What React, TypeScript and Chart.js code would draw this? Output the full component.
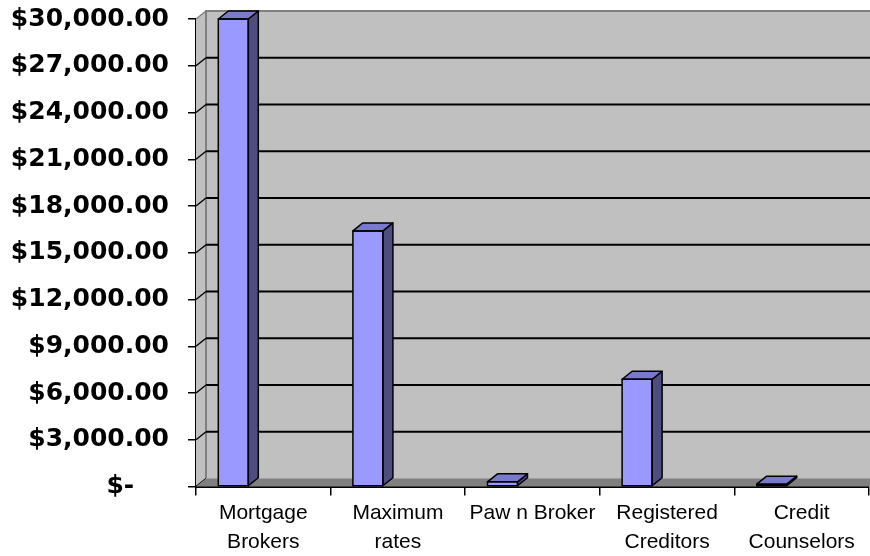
import React, { useEffect, useRef } from "react";
import { Chart, registerables } from "chart.js";

Chart.register(...registerables);

const categories: (string | string[])[] = [
  ["Mortgage", "Brokers"],
  ["Maximum", "rates"],
  "Paw n Broker",
  ["Registered", "Creditors"],
  ["Credit", "Counselors"],
];
const amounts: number[] = [30000, 16400, 300, 6880, 150];
const spacer: (number | null)[] = [null, null, null, null, null];
const yMin = 0;
const yMax = 30000;
const yStep = 3000;

const formatMoney = (v: number): string =>
  v === 0
    ? "$-    "
    : "$" + v.toLocaleString("en-US", { minimumFractionDigits: 2, maximumFractionDigits: 2 });

const DX = 10;
const DY = 8;

const wallPlugin = {
  id: "wall3d",
  beforeDatasetsDraw(chart: any) {
    const { ctx, chartArea, scales } = chart;
    const y = scales.y;
    const left = chartArea.left;
    const right = chart.width;
    const top = y.getPixelForValue(yMax);
    const bottom = y.getPixelForValue(yMin);
    ctx.save();
    ctx.fillStyle = "#c0c0c0";
    ctx.fillRect(left + DX, top - DY, right - left - DX, bottom - top);
    ctx.beginPath();
    ctx.moveTo(left, top);
    ctx.lineTo(left + DX, top - DY);
    ctx.lineTo(left + DX, bottom - DY);
    ctx.lineTo(left, bottom);
    ctx.closePath();
    ctx.fill();
    ctx.strokeStyle = "#808080";
    ctx.lineWidth = 2;
    ctx.beginPath();
    ctx.moveTo(left + DX, bottom - DY);
    ctx.lineTo(left + DX, top - DY);
    ctx.lineTo(right, top - DY);
    ctx.stroke();
    y.ticks.forEach((t: any) => {
      const py = y.getPixelForValue(t.value);
      ctx.strokeStyle = t.value === yMax ? "#808080" : "#000000";
      ctx.lineWidth = 1.5;
      ctx.beginPath();
      ctx.moveTo(left, py);
      ctx.lineTo(left + DX, py - DY);
      ctx.stroke();
      if (t.value !== yMin && t.value !== yMax) {
        ctx.lineWidth = 2;
        ctx.beginPath();
        ctx.moveTo(left + DX, py - DY);
        ctx.lineTo(right, py - DY);
        ctx.stroke();
      }
    });
    ctx.fillStyle = "#808080";
    ctx.beginPath();
    ctx.moveTo(left, bottom);
    ctx.lineTo(left + DX, bottom - DY);
    ctx.lineTo(right + DX, bottom - DY);
    ctx.lineTo(right, bottom);
    ctx.closePath();
    ctx.fill();
    ctx.strokeStyle = "#a0a0a0";
    ctx.lineWidth = 1;
    ctx.beginPath();
    ctx.moveTo(left + DX, bottom - DY);
    ctx.lineTo(right, bottom - DY);
    ctx.stroke();
    ctx.restore();
  },
  afterDatasetsDraw(chart: any) {
    const { ctx } = chart;
    const meta = chart.getDatasetMeta(0);
    ctx.save();
    ctx.strokeStyle = "#000000";
    ctx.lineWidth = 1.5;
    ctx.lineJoin = "round";
    meta.data.forEach((bar: any) => {
      const { x, y, base, width } = bar.getProps(["x", "y", "base", "width"], true);
      const l = x - width / 2;
      const r = x + width / 2;
      ctx.fillStyle = "#4d4d80";
      ctx.beginPath();
      ctx.moveTo(r, y);
      ctx.lineTo(r + DX, y - DY);
      ctx.lineTo(r + DX, base - DY);
      ctx.lineTo(r, base);
      ctx.closePath();
      ctx.fill();
      ctx.stroke();
      ctx.fillStyle = "#7a7acc";
      ctx.beginPath();
      ctx.moveTo(l, y);
      ctx.lineTo(l + DX, y - DY);
      ctx.lineTo(r + DX, y - DY);
      ctx.lineTo(r, y);
      ctx.closePath();
      ctx.fill();
      ctx.stroke();
      ctx.strokeRect(l, y, width, base - y);
    });
    ctx.restore();
  },
};

export default function App() {
  const canvasRef = useRef<HTMLCanvasElement | null>(null);

  useEffect(() => {
    if (!canvasRef.current) return;
    const chart = new Chart(canvasRef.current, {
      type: "bar",
      data: {
        labels: categories,
        datasets: [
          {
            data: amounts,
            backgroundColor: "#9999ff",
            borderColor: "#000000",
            borderWidth: 0,
            categoryPercentage: 0.8915,
            barPercentage: 0.5,
          },
          {
            data: spacer,
            backgroundColor: "rgba(0,0,0,0)",
            categoryPercentage: 0.8915,
            barPercentage: 0.5,
          },
        ],
      },
      options: {
        animation: false,
        responsive: true,
        maintainAspectRatio: false,
        layout: { padding: { top: 19, right: 1, bottom: 0, left: 0 } },
        plugins: {
          legend: { display: false },
          tooltip: { enabled: false },
          title: { display: false },
        },
        scales: {
          x: {
            offset: true,
            afterFit: (s: any) => {
              s.height = 69.5;
              s.paddingLeft = 0;
              s.paddingRight = 0;
            },
            grid: {
              offset: true,
              drawOnChartArea: false,
              drawTicks: true,
              tickLength: 9,
              color: "#000000",
              lineWidth: 1.5,
            },
            border: { display: true, color: "#000000", width: 2 },
            ticks: {
              color: "#000000",
              padding: 3,
              maxRotation: 0,
              autoSkip: false,
              font: { family: "'Liberation Sans', Arial, sans-serif", size: 21, lineHeight: "29px" },
            },
          },
          y: {
            min: yMin,
            max: yMax,
            afterFit: (s: any) => {
              s.width = 196;
              s.paddingTop = 0;
              s.paddingBottom = 0;
            },
            grid: {
              drawOnChartArea: false,
              drawTicks: true,
              tickLength: 8,
              color: "#000000",
              lineWidth: 1.5,
            },
            border: { display: true, color: "#000000", width: 2 },
            ticks: {
              stepSize: yStep,
              color: "#000000",
              padding: 19,
              callback: (v: any) => formatMoney(Number(v)),
              font: { family: "'DejaVu Sans', sans-serif", size: 25, weight: "bold" },
            },
          },
        },
      },
      plugins: [wallPlugin],
    });
    return () => chart.destroy();
  }, []);

  return (
    <div style={{ position: "absolute", left: 0, top: 0, width: 870, height: 556, background: "#ffffff" }}>
      <canvas ref={canvasRef} />
    </div>
  );
}
